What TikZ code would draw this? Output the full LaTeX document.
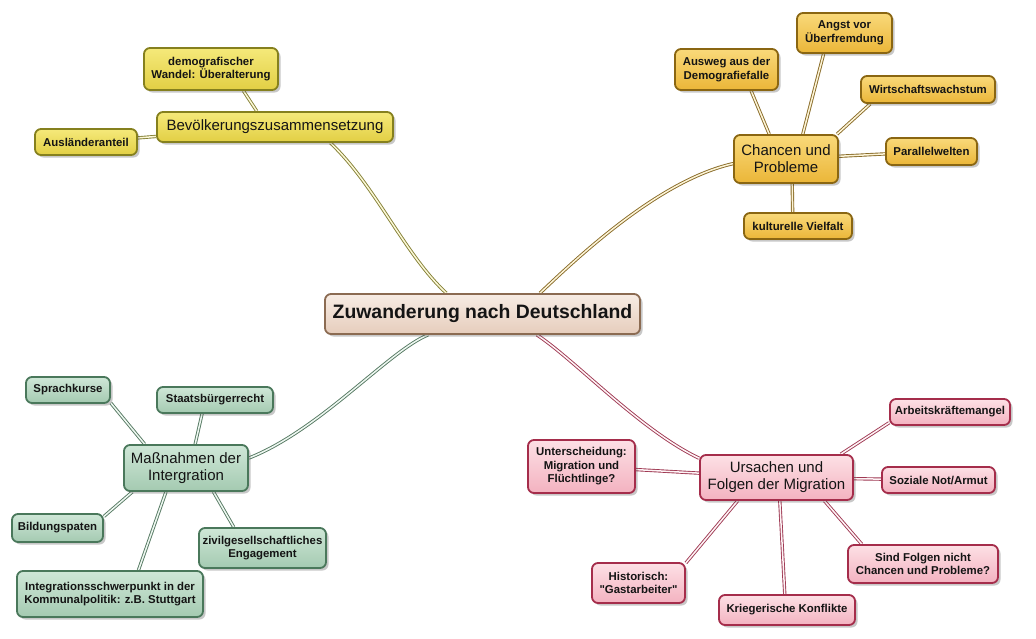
\documentclass[tikz,border=0pt]{standalone}
\usepackage{fontspec}
\setmainfont{Liberation Sans}[Ligatures=TeXOff]
\usetikzlibrary{shadows,backgrounds}
\definecolor{ctrT}{HTML}{F7ECE4}
\definecolor{ctrBo}{HTML}{E6CDBC}
\definecolor{ctrD}{HTML}{8B6B52}
\definecolor{yelT}{HTML}{F5E97A}
\definecolor{yelB}{HTML}{E2CF44}
\definecolor{yelD}{HTML}{85801E}
\definecolor{orT}{HTML}{F9D97A}
\definecolor{orB}{HTML}{EBB638}
\definecolor{orD}{HTML}{8A6612}
\definecolor{grT}{HTML}{CFE7D7}
\definecolor{grB}{HTML}{A4CAB1}
\definecolor{grD}{HTML}{4A785B}
\definecolor{pkT}{HTML}{FDE0E5}
\definecolor{pkB}{HTML}{F3B2C0}
\definecolor{pkD}{HTML}{A52D4B}
\definecolor{txt}{HTML}{141414}
\tikzset{
  base/.style={rounded corners=6pt, draw, line width=1.8pt, align=center, text=txt,
    inner sep=1pt,
    drop shadow={shadow xshift=2.5pt, shadow yshift=-2.5pt, opacity=0.3, fill=black!70}},
  sz/.style 2 args={minimum width=#1pt, minimum height=#2pt},
  leaffont/.style={font=\fontsize{11.4}{13.5}\selectfont\bfseries},
  branchfont/.style={font=\fontsize{15}{17}\selectfont},
  ctrbox/.style={base, draw=ctrD, top color=ctrT, bottom color=ctrBo, font=\fontsize{19.4}{23}\selectfont\bfseries},
  ybranch/.style={base, branchfont, draw=yelD, top color=yelT, bottom color=yelB},
  yleaf/.style={base, leaffont, draw=yelD, top color=yelT, bottom color=yelB},
  obranch/.style={base, branchfont, draw=orD, top color=orT, bottom color=orB},
  oleaf/.style={base, leaffont, draw=orD, top color=orT, bottom color=orB},
  gbranch/.style={base, branchfont, draw=grD, top color=grT, bottom color=grB},
  gleaf/.style={base, leaffont, draw=grD, top color=grT, bottom color=grB},
  pbranch/.style={base, branchfont, draw=pkD, top color=pkT, bottom color=pkB},
  pleaf/.style={base, leaffont, draw=pkD, top color=pkT, bottom color=pkB},
  link/.style={line width=0.9pt, double distance=1.5pt},
  ylink/.style={link, draw=yelD!75!gray, double=yelT!30},
  olink/.style={link, draw=orD!80!gray, double=orT!30},
  glink/.style={link, draw=grD!80!gray, double=grT!35},
  plink/.style={link, draw=pkD!85!gray, double=pkT!35},
}
\begin{document}
\begin{tikzpicture}[x=1pt,y=-1pt]
\useasboundingbox (0,0) rectangle (1036,638);

% center
\node[ctrbox, sz={315}{40}] (ctr) at (482.5,314) {Zuwanderung nach Deutschland};

% Bevoelkerung
\node[ybranch, sz={236}{30}] (bev) at (275,127) {Bevölkerungszusammensetzung};
\node[yleaf, sz={134}{42}] (demo) at (211,69) {demografischer\\Wandel: Überalterung};
\node[yleaf, sz={102}{26}] (ausl) at (86,142) {Ausländeranteil};

% Chancen
\node[obranch, sz={104}{48}] (chan) at (786,159) {Chancen und\\Probleme};
\node[oleaf, sz={103}{41}] (ausw) at (726.5,69.5) {Ausweg aus der\\Demografiefalle};
\node[oleaf, sz={95}{40}] (angst) at (844.5,33) {Angst vor\\Überfremdung};
\node[oleaf, sz={134}{27}] (wirt) at (928,89.5) {Wirtschaftswachstum};
\node[oleaf, sz={91}{27}] (para) at (931.5,151.5) {Parallelwelten};
\node[oleaf, sz={108}{26}] (kult) at (798,226) {kulturelle Vielfalt};

% Integration
\node[gbranch, sz={124}{46}] (integ) at (186,468) {Maßnahmen der\\Intergration};
\node[gleaf, sz={84}{26}] (sprach) at (68,390) {Sprachkurse};
\node[gleaf, sz={116}{26}] (staats) at (215,400) {Staatsbürgerrecht};
\node[gleaf, sz={91}{28}] (bild) at (57.5,528) {Bildungspaten};
\node[gleaf, sz={127}{40}] (ziv) at (262.5,548) {zivilgesellschaftliches\\Engagement};
\node[gleaf, sz={186}{46}] (schw) at (110,594) {Integrationsschwerpunkt in der\\Kommunalpolitik: z.B. Stuttgart};

% Ursachen
\node[pbranch, sz={153}{45}] (urs) at (776.5,477.5) {Ursachen und\\Folgen der Migration};
\node[pleaf, sz={120}{26}] (arb) at (950,412) {Arbeitskräftemangel};
\node[pleaf, sz={107}{53}] (unt) at (581.5,466.5) {Unterscheidung:\\Migration und\\Flüchtlinge?};
\node[pleaf, sz={113}{26}] (soz) at (938.5,480) {Soziale Not/Armut};
\node[pleaf, sz={150}{38}] (sind) at (923,564) {Sind Folgen nicht\\Chancen und Probleme?};
\node[pleaf, sz={93}{40}] (hist) at (638.5,583) {Historisch:\\"Gastarbeiter"};
\node[pleaf, sz={136}{30}] (krieg) at (787,610) {Kriegerische Konflikte};

\begin{pgfonlayer}{background}
\fill[white] (0,0) rectangle (1036,638);
% main curves
\draw[ylink] (ctr.150) .. controls (405,255) and (375,185) .. (bev.-16);
\draw[olink] (ctr.20) .. controls (580,255) and (660,180) .. (chan.185);
\draw[glink] (ctr.201) .. controls (390,350) and (320,430) .. (integ.9);
\draw[plink] (ctr.-21) .. controls (575,360) and (640,430) .. (urs.166);
% yellow leaves
\draw[ylink] (bev.139) -- (demo.-34);
\draw[ylink] (bev) -- (ausl);
% orange leaves
\draw[olink] (chan.124) -- (ausw.-41);
\draw[olink] (chan.56) -- (angst.-135);
\draw[olink] (chan.26) -- (wirt.194);
\draw[olink] (chan) -- (para);
\draw[olink] (chan.-76) -- (kult.111);
% green leaves
\draw[glink] (integ.150) -- (sprach.-17);
\draw[glink] (integ.69) -- (staats.-133);
\draw[glink] (integ.204) -- (bild.14);
\draw[glink] (integ.230) -- (schw.40);
\draw[glink] (integ.-41) -- (ziv.144);
% pink leaves
\draw[plink] (urs.20) -- (arb.190);
\draw[plink] (urs) -- (unt);
\draw[plink] (urs) -- (soz);
\draw[plink] (urs.-26) -- (sind.162);
\draw[plink] (urs.211) -- (hist.23);
\draw[plink] (urs.-82) -- (krieg.98);
\end{pgfonlayer}
\end{tikzpicture}
\end{document}
